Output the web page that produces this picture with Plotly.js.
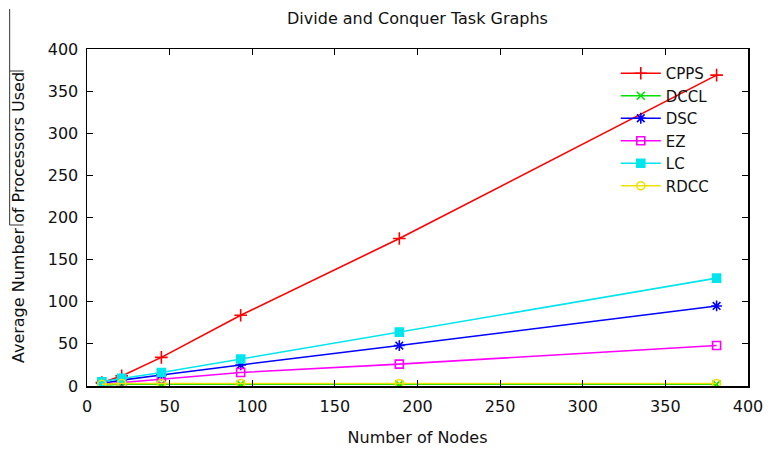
<!DOCTYPE html>
<html>
<head>
<meta charset="utf-8">
<script src="https://cdn.plot.ly/plotly-3.0.1.min.js"></script>
<style>html,body{margin:0;padding:0;background:#fff;}#chart{width:769px;height:450px;}</style>
</head>
<body>
<div id="chart"></div>
<script>
const nodes = [9, 21, 45, 93, 189, 381];
const cpps = [4, 12, 34, 84, 175, 369];
const dccl = [1, 2, 2, 2, 2, 2];
const dsc  = [3, 7, 13, 25, 48, 95];
const ez   = [2, 4, 8, 16, 26, 48];
const lc   = [5, 9, 16, 32, 64, 128];
const rdcc = [2, 3, 3, 3, 3, 3];
const xTicks = [0, 50, 100, 150, 200, 250, 300, 350, 400];
const yTicks = [0, 50, 100, 150, 200, 250, 300, 350, 400];

const series = [
  {name: 'CPPS', y: cpps, color: '#ff0000', symbol: 'cross-thin-open', size: 9},
  {name: 'DCCL', y: dccl, color: '#00e000', symbol: 'x-thin-open', size: 8},
  {name: 'DSC',  y: dsc,  color: '#0000ff', symbol: 'asterisk-open', size: 9},
  {name: 'EZ',   y: ez,   color: '#ff00ff', symbol: 'square-open', size: 8},
  {name: 'LC',   y: lc,   color: '#00e5ee', symbol: 'square', size: 8},
  {name: 'RDCC', y: rdcc, color: '#f0e000', symbol: 'circle-open', size: 8}
];

const traces = series.map(s => ({
  type: 'scatter', mode: 'lines+markers', name: s.name,
  x: nodes, y: s.y,
  line: {color: s.color, width: 1.6},
  marker: {color: s.color, symbol: s.symbol, size: s.size, line: {color: s.color, width: 1.6}}
}));

const font = 'DejaVu Sans, sans-serif';
const axisCommon = {
  showline: true, linecolor: '#000', linewidth: 1.5, mirror: 'ticks',
  ticks: 'inside', ticklen: 6, tickcolor: '#000', tickwidth: 1,
  showgrid: false, zeroline: false, fixedrange: true,
  tickfont: {family: font, size: 16, color: '#111'}
};

const layout = {
  width: 769, height: 450,
  margin: {l: 87, r: 21, t: 49, b: 64},
  paper_bgcolor: '#fff', plot_bgcolor: '#fff',
  font: {family: font, color: '#111'},
  title: {text: 'Divide and Conquer Task Graphs', font: {family: font, size: 16, color: '#111'},
          x: 0.5, xref: 'paper', y: 1 - 18/450, yref: 'container', yanchor: 'middle'},
  xaxis: Object.assign({}, axisCommon, {
    range: [0, 400], tickvals: xTicks, ticktext: xTicks.map(String), ticklabelstandoff: 5,
    title: {text: 'Number of Nodes', font: {family: font, size: 16, color: '#111'}, standoff: 17}
  }),
  yaxis: Object.assign({}, axisCommon, {
    range: [0, 400], tickvals: yTicks, ticktext: yTicks.map(String), ticklabelstandoff: 4,
    title: {text: 'Average Number of Processors Used', font: {family: font, size: 16, color: '#111'}, standoff: 19}
  }),
  showlegend: true,
  legend: {x: 0.8, xanchor: 'left', y: 1 - 8/337, yanchor: 'top', bgcolor: 'rgba(0,0,0,0)',
           font: {family: font, size: 15, color: '#111'}, itemwidth: 40, tracegroupgap: 0},
  shapes: [
    {type: 'line', xref: 'paper', yref: 'paper', x0: -0.117, x1: -0.117, y0: 1.1187, y1: 0.4777, line: {color: '#333', width: 1}},
    {type: 'line', xref: 'paper', yref: 'paper', x0: -0.117, x1: -0.096, y0: 0.9347, y1: 0.9347, line: {color: '#333', width: 1}},
    {type: 'line', xref: 'paper', yref: 'paper', x0: -0.117, x1: -0.096, y0: 0.4777, y1: 0.4777, line: {color: '#333', width: 1}}
  ]
};

Plotly.newPlot('chart', traces, layout, {staticPlot: true, displayModeBar: false});
</script>
</body>
</html>
